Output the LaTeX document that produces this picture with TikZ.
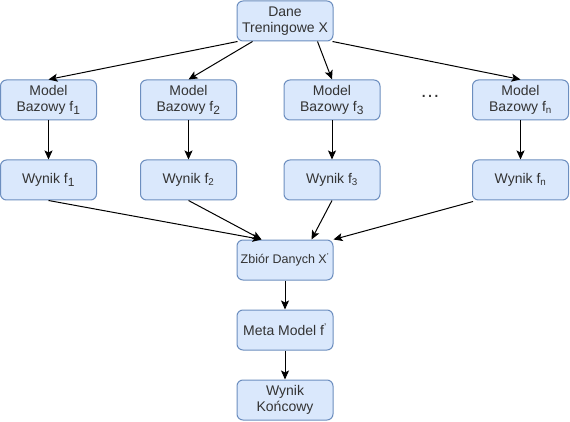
\documentclass[tikz,border=0pt]{standalone}
\usepackage{fontspec}
\setmainfont{Liberation Sans}
\usetikzlibrary{arrows.meta,calc}
\definecolor{boxfill}{HTML}{DAE8FC}
\definecolor{boxline}{HTML}{6C8EBF}
\tikzset{
  blk/.style={draw=boxline,line width=1pt,fill=boxfill,rounded corners=6pt,minimum width=96pt,minimum height=40pt,inner sep=1pt,align=center,font=\fontsize{14}{15.5}\selectfont,text=black!80},
  conn/.style={draw=black,line width=1pt,-{Stealth[length=9pt,width=8pt,inset=2pt]}}
}
\begin{document}
\begin{tikzpicture}[x=1pt,y=-1pt]
\useasboundingbox[fill=white] (0,0) rectangle (570,422);
\node[blk] (dane) at (285,21) {Dane\\Treningowe X};
\node[blk] (m1) at (48.5,100) {Model\\Bazowy f\textsubscript{\large 1}};
\node[blk] (m2) at (188.5,100) {Model\\Bazowy f\textsubscript{\large 2}};
\node[blk] (m3) at (332,100) {Model\\Bazowy f\textsubscript{\large 3}};
\node[blk] (mn) at (520.5,100) {Model\\Bazowy f\textsubscript{n}};
\node[font=\fontsize{20}{20}\selectfont,text=black!80] (dots) at (430,96) {…};
\node[blk] (w1) at (48.5,180) {Wynik f\textsubscript{\large 1}};
\node[blk] (w2) at (188.5,180) {Wynik f\textsubscript{2}};
\node[blk] (w3) at (332,180) {Wynik f\textsubscript{3}};
\node[blk] (wn) at (520.5,180) {Wynik f\textsubscript{n}};
\node[blk,font=\fontsize{12.5}{14}\selectfont] (zb) at (285,260) {Zbiór Danych X\textsuperscript{'}};
\node[blk] (meta) at (285,330) {Meta Model f\textsuperscript{'}};
\node[blk] (wk) at (285,400) {Wynik\\Końcowy};
\draw[conn] ([xshift=1pt]dane.south west) -- (m1.north);
\draw[conn] ([xshift=16pt]dane.south west) -- (m2.north);
\draw[conn] ([xshift=-16pt]dane.south east) -- (m3.north);
\draw[conn] ([xshift=-1pt]dane.south east) -- (mn.north);
\draw[conn] (m1) -- (w1);
\draw[conn] (m2) -- (w2);
\draw[conn] (m3) -- (w3);
\draw[conn] (mn) -- (wn);
\coordinate (zin) at ([xshift=25pt]zb.north west);
\draw[conn] (w1.south) -- (zin);
\draw[conn] (w2.south) -- (zin);
\draw[conn] (w3.south) -- ([xshift=-22pt]zb.north east);
\draw[conn] ([xshift=1pt,yshift=-1pt]wn.south west) -- (zb.north east);
\draw[conn] (zb) -- (meta);
\draw[conn] (meta) -- (wk);
\end{tikzpicture}
\end{document}
